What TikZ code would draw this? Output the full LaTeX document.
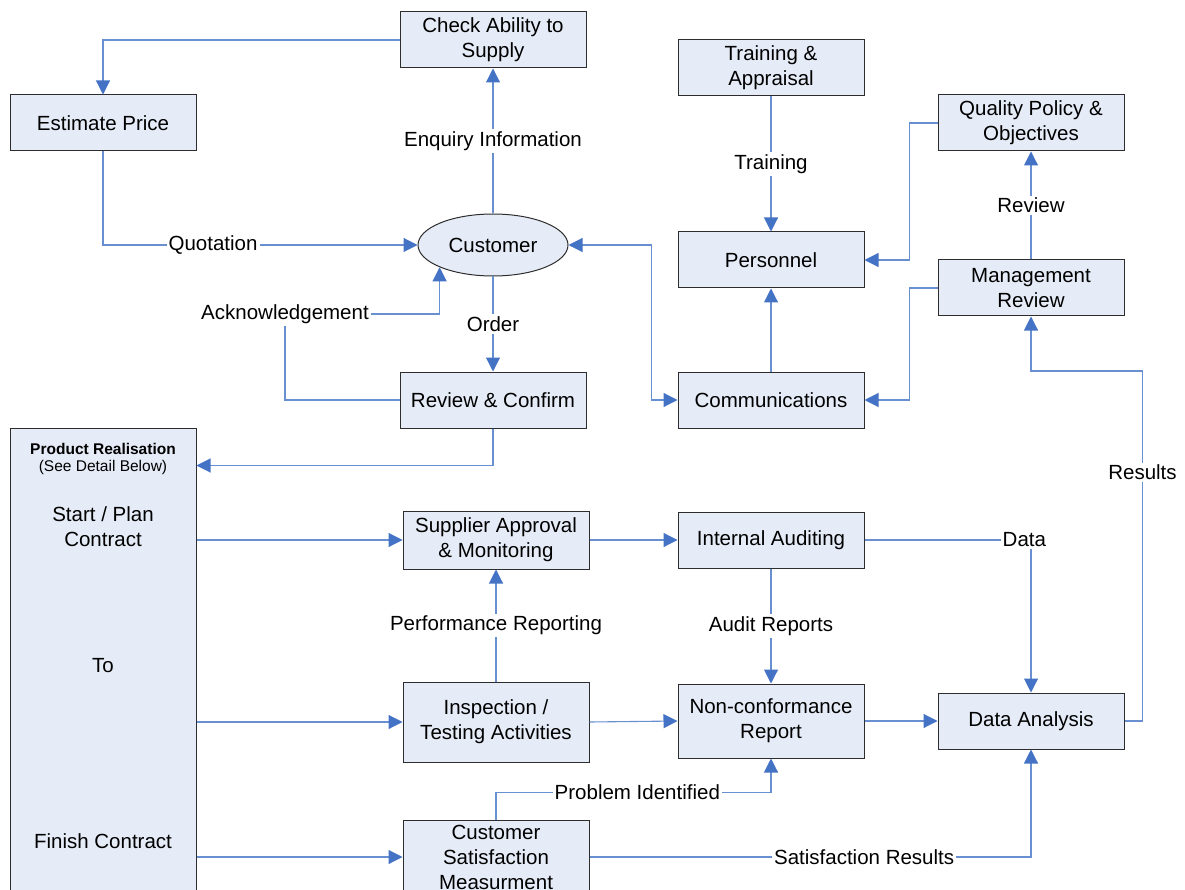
\documentclass[tikz,border=0pt]{standalone}
\usepackage{fontspec}
\setmainfont{Liberation Sans}
\usetikzlibrary{arrows.meta,positioning,shapes.geometric}
\definecolor{boxfill}{RGB}{230,236,247}
\definecolor{boxline}{RGB}{45,45,45}
\definecolor{linkblue}{RGB}{104,143,207}
\definecolor{tipblue}{RGB}{68,114,196}

\begin{document}
\begin{tikzpicture}
		[x=1pt,y=-1pt,
		main node/.style={shape=rectangle,draw=boxline,line width=1pt,fill=boxfill,minimum width=186pt,minimum height=56pt,align=center,inner sep=2pt,font=\fontsize{20.5}{25}\selectfont},
		link/.style={draw=linkblue,line width=1.1pt,-{Triangle[length=14pt,width=14pt,color=tipblue]}},
		both link/.style={link,{Triangle[length=14pt,width=14pt,color=tipblue]}-{Triangle[length=14pt,width=14pt,color=tipblue]}},
		plain link/.style={draw=linkblue,line width=1.1pt},
		tag/.style={fill=white,inner sep=2pt,font=\fontsize{20.5}{25}\selectfont}]
		\useasboundingbox (0,0) rectangle (1185,890);
		
		\node [main node] (check) at (493,40) {Check Ability to\\Supply};
		\node [main node] (price) at (103,123) {Estimate Price};
		\node [main node] (train) at (771,68) {Training \&\\Appraisal};
		\node [main node] (policy) at (1031,123) {Quality Policy \&\\Objectives};
		\node [main node,shape=ellipse,minimum width=150pt,minimum height=62pt,inner sep=0pt] (cust) at (493,245) {Customer};
		\node [main node] (staff) at (771,260) {Personnel};
		\node [main node] (mgmt) at (1031,288) {Management\\Review};
		\node [main node] (confirm) at (493,400) {Review \& Confirm};
		\node [main node] (comms) at (771,400) {Communications};
		
		\node [main node,minimum height=472pt] (real) at (103,664) {};
		\node [font=\fontsize{15.5}{17}\selectfont\bfseries] (realtitle) at (103,449) {Product Realisation};
		\node [font=\fontsize{15.5}{17}\selectfont] (realnote) at (103,467) {(See Detail Below)};
		\node [align=center,font=\fontsize{20.5}{25}\selectfont] (realstart) at (103,527) {Start / Plan\\Contract};
		\node [font=\fontsize{20.5}{25}\selectfont] (realto) at (103,666) {To};
		\node [font=\fontsize{20.5}{25}\selectfont] (realend) at (103,841) {Finish Contract};
		
		\node [main node,minimum height=58pt] (supp) at (496,540) {Supplier Approval\\\& Monitoring};
		\node [main node] (audit) at (771,540) {Internal Auditing};
		\node [main node,minimum height=80pt] (insp) at (496,722) {Inspection /\\Testing Activities};
		\node [main node,minimum height=74pt] (ncr) at (771,721) {Non-conformance\\Report};
		\node [main node] (analysis) at (1031,721) {Data Analysis};
		\node [main node,minimum height=74pt] (csm) at (496,857) {Customer\\Satisfaction\\Measurment};
		
		\node [tag] (ack) at (285,314) {Acknowledgement};
		
		\draw [link] (check.west) -| (price.north);
		\draw [link] (price.south) |- node[tag,pos=0.675] {Quotation} (cust.west);
		\draw [link] (cust.north) -- node[tag] {Enquiry Information} (check.south);
		\draw [link] (cust.south) -- node[tag] {Order} (confirm.north);
		\draw [plain link] (confirm.west) -| (ack.south);
		\draw [link] (ack.east) -| (cust.south west);
		\draw [both link] (cust.east) -- ++(83,0) |- (comms.west);
		\draw [link] (train.south) -- node[tag] {Training} (staff.north);
		\draw [link] (comms.north) -- (staff.south);
		\draw [link] (policy.west) -- ++(-28,0) |- (staff.east);
		\draw [link] (mgmt.west) -- ++(-28,0) |- (comms.east);
		\draw [link] (mgmt.north) -- node[tag] {Review} (policy.south);
		\draw [link] (analysis.east) -- ++(18,0) -- node[tag,pos=0.71] {Results} ++(0,-350) -| (mgmt.south);
		\draw [link] (confirm.south) |- ([yshift=-37pt]confirm.south -| real.east);
		
		\draw [link] (real.east |- supp.west) -- (supp.west);
		\draw [link] (supp.east) -- (audit.west);
		\draw [link] (audit.east) -| node[tag,pos=0.48] {Data} (analysis.north);
		\draw [link] (audit.south) -- node[tag] {Audit Reports} (ncr.north);
		\draw [link] (insp.north) -- node[tag] {Performance Reporting} (supp.south);
		\draw [link] (real.east |- insp.west) -- (insp.west);
		\draw [link] (insp.east) -- (ncr.west);
		\draw [link] (ncr.east) -- (analysis.west);
		\draw [link] (csm.north) -- ++(0,-27) -| node[tag,pos=0.257] {Problem Identified} (ncr.south);
		\draw [link] (csm.east) -| node[tag,pos=0.311] {Satisfaction Results} (analysis.south);
		\draw [link] (real.east |- csm.west) -- (csm.west);
		
\end{tikzpicture}
\end{document}
